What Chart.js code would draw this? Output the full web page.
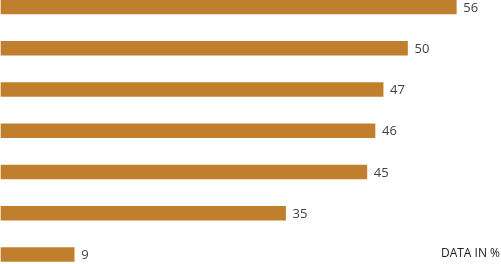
<!DOCTYPE html>
<html>
<head>
<meta charset="utf-8">
<script src="https://cdn.jsdelivr.net/npm/chart.js@4/dist/chart.umd.min.js"></script>
<style>
  html, body { margin: 0; padding: 0; background: #fff; }
  #wrap { width: 501px; height: 264px; position: relative; }
</style>
</head>
<body>
<div id="wrap"><canvas id="canvas"></canvas></div>
<script>
const categories = ["Item 1", "Item 2", "Item 3", "Item 4", "Item 5", "Item 6", "Item 7"];
const values = [56, 50, 47, 46, 45, 35, 9];
const unitLabel = "DATA IN %";

// value labels just past the end of each bar
const valueLabels = {
    id: 'valueLabels',
    afterDatasetsDraw(chart) {
        let ctx = chart.ctx;
        let meta = chart.getDatasetMeta(0);
        ctx.save();
        ctx.font = '13px "Open Sans"';
        ctx.fillStyle = '#404040';
        ctx.textBaseline = 'middle';
        meta.data.forEach(function (bar, i) {
            ctx.fillText(String(values[i]), bar.x + 7, bar.y + 1);
        });
        ctx.restore();
    }
};

const unitNote = {
    id: 'unitNote',
    afterDraw(chart) {
        let ctx = chart.ctx;
        ctx.save();
        ctx.font = '12px "Open Sans"';
        ctx.fillStyle = '#222';
        ctx.textAlign = 'right';
        ctx.textBaseline = 'middle';
        ctx.fillText(unitLabel, chart.width - 1, 254);
        ctx.restore();
    }
};

let ctx = document.getElementById('canvas').getContext('2d');
let myChart = new Chart(ctx, {
    type: 'bar',
    data: {
        labels: categories,
        datasets: [{
            data: values,
            backgroundColor: '#c07f2c',
            borderWidth: 0,
            barThickness: 14,
            clip: false
        }]
    },
    options: {
        indexAxis: 'y',
        responsive: true,
        maintainAspectRatio: false,
        animation: false,
        layout: { padding: { left: 1, top: 7, bottom: 9.5, right: 0 } },
        plugins: { legend: { display: false }, tooltip: { enabled: false } },
        scales: {
            x: { display: false, min: 0, max: 61.5 },
            y: { display: false, offset: false }
        }
    },
    plugins: [valueLabels, unitNote]
});
</script>
</body>
</html>
